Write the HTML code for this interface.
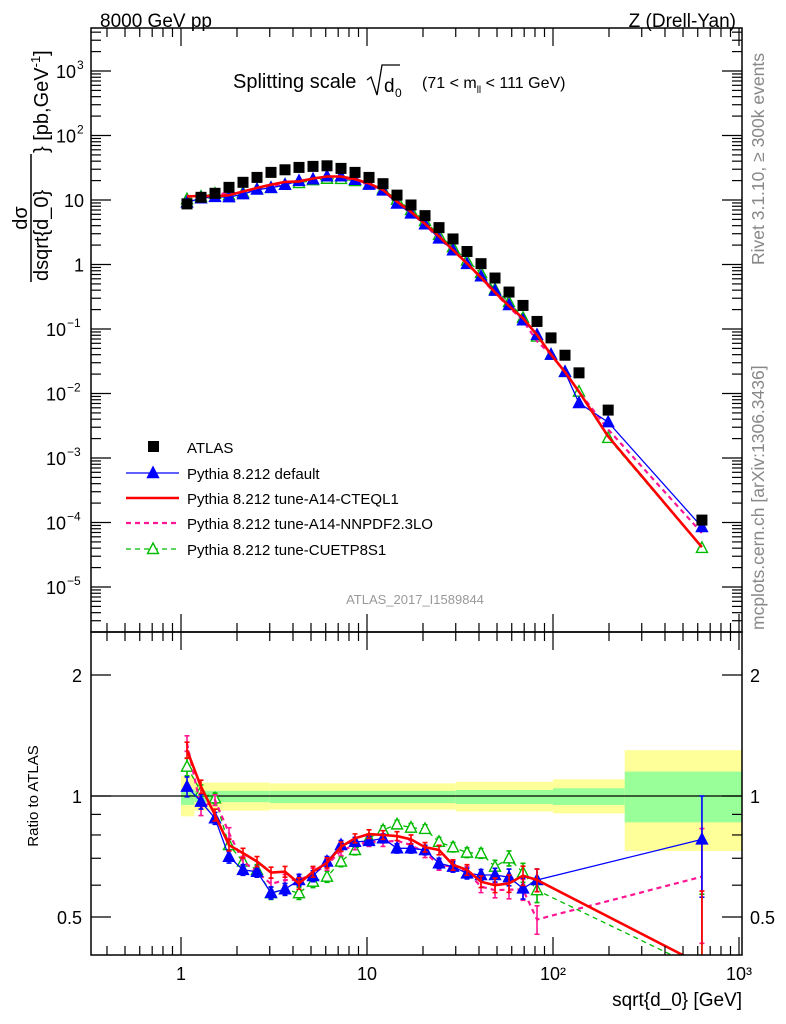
<!DOCTYPE html>
<html><head><meta charset="utf-8"><style>
html,body{margin:0;background:#fff;overflow:hidden;width:786px;height:1024px}
svg{display:block;font-family:"Liberation Sans",sans-serif}
</style></head><body>
<svg id="c" width="786" height="1024" viewBox="0 0 786 1024" xmlns="http://www.w3.org/2000/svg">
<defs>
<clipPath id="cm"><rect x="91" y="28" width="651" height="604"/></clipPath>
<clipPath id="cr"><rect x="91" y="632" width="651" height="323"/></clipPath>
</defs>
<g id="bands" clip-path="url(#cr)"></g>
<g id="main"></g>
<g id="ratio"></g>
<g id="axes"></g>
<text x="100" y="27" font-size="19">8000 GeV pp</text>
<text x="736" y="27" font-size="19" text-anchor="end">Z (Drell-Yan)</text>
<g>
<text x="233" y="88" font-size="20">Splitting scale</text>
<path d="M367,80 l4,-3 l6,18 l5,-30 h18" fill="none" stroke="#000" stroke-width="1.3"/>
<text x="384" y="92" font-size="19">d</text><text x="395" y="97" font-size="12">0</text>
<text x="422" y="88" font-size="16">(71 &lt; m<tspan font-size="10" dy="5">ll</tspan><tspan dy="-5"> &lt; 111 GeV)</tspan></text>
</g>
<text x="415" y="604" font-size="13" fill="#999" text-anchor="middle">ATLAS_2017_I1589844</text>
<text transform="translate(764,265) rotate(-90)" font-size="17.5" fill="#888">Rivet 3.1.10, ≥ 300k events</text>
<text transform="translate(764,630) rotate(-90)" font-size="17.5" fill="#888">mcplots.cern.ch [arXiv:1306.3436]</text>
<g>
<text transform="translate(27,218) rotate(-90)" font-size="20" text-anchor="middle">dσ</text>
<line x1="31" y1="282" x2="31" y2="154" stroke="#000" stroke-width="1.5"/>
<text transform="translate(48,281) rotate(-90)" font-size="20">dsqrt{d_0}</text>
<text transform="translate(48,153) rotate(-90)" font-size="20">} [pb,GeV<tspan font-size="13" dy="-8">-1</tspan><tspan dy="8">]</tspan></text>
</g>
<text transform="translate(38,796) rotate(-90)" font-size="15" text-anchor="middle">Ratio to ATLAS</text>
<text x="742" y="1006" font-size="19" text-anchor="end">sqrt{d_0} [GeV]</text>
<g id="legend"></g>
</svg>
<script>
const NS="http://www.w3.org/2000/svg";
// ---- data ----
const xBinLogStart=0.0323, xBinLogStep=0.07527; // bin index to log10(sqrt d0)
const xIndex=[0,1,2,3,4,5,6,7,8,9,10,11,12,13,14,15,16,17,18,19,20,21,22,23,24,25,26,27,28];
const xExtra=[198,632];
const atlas=[8.7,11.0,12.7,15.7,18.8,22.4,26.8,29.4,32.0,33.2,33.9,30.9,26.8,22.4,17.9,11.9,8.37,5.72,3.73,2.49,1.59,1.03,0.617,0.374,0.232,0.131,0.0728,0.0392,0.0209,0.00553,0.000109];
const rDefault=[1.055,0.968,0.880,0.706,0.655,0.648,0.574,0.586,0.618,0.632,0.687,0.755,0.769,0.773,0.785,0.741,0.741,0.734,0.680,0.667,0.642,0.636,0.636,0.628,0.589,0.618];
const rA14=[1.301,1.055,0.897,0.755,0.721,0.687,0.645,0.648,0.606,0.648,0.682,0.748,0.785,0.804,0.800,0.795,0.780,0.746,0.734,0.674,0.655,0.612,0.600,0.606,0.634,0.618];
const rNNPDF=[1.352,0.934,0.977,0.809,0.687,0.648,0.604,0.618,0.618,0.642,0.674,0.731,0.755,0.769,0.769,0.774,0.755,0.723,0.674,0.667,0.648,0.595,0.583,0.585,0.585,0.493];
const rCUETP=[1.183,1.025,0.987,0.755,0.687,0.655,0.573,0.586,0.573,0.612,0.630,0.687,0.734,0.785,0.823,0.850,0.834,0.828,0.769,0.746,0.723,0.720,0.667,0.700,0.645,0.583];
const tailDefault=[0.55,0.55,0.34,0.65,0.78];
const tailA14=[0.55,0.55,0.51,0.39,0.38];
const tailNNPDF=[0.55,0.55,0.51,0.50,0.63];
const tailCUETP=[0.55,0.55,0.51,0.37,0.37];
const errRel=[0.06,0.04,0.03,0.025,0.02,0.02,0.02,0.02,0.02,0.02,0.02,0.02,0.02,0.02,0.02,0.02,0.02,0.02,0.02,0.02,0.02,0.02,0.025,0.03,0.035,0.04];
const lastErr=[0.22,0.2,0.2,0.2];
const bandEdges=[1.0,1.18,3.0,10,30,100,243,1100];
const yellowHi=[1.12,1.08,1.075,1.075,1.085,1.10,1.30];
const yellowLo=[0.89,0.92,0.925,0.925,0.915,0.905,0.73];
const greenHi=[1.04,1.03,1.03,1.03,1.035,1.045,1.15];
const greenLo=[0.95,0.965,0.96,0.96,0.955,0.95,0.86];
const seriesNames=["Pythia 8.212 default","Pythia 8.212 tune-A14-CTEQL1","Pythia 8.212 tune-A14-NNPDF2.3LO","Pythia 8.212 tune-CUETP8S1"];
// ---- scales ----
const X=v=>181+186*Math.log10(v);
const Y=v=>264.5-64.5*Math.log10(v);
const R=r=>796-402*Math.log10(r);
const xs=xIndex.map(i=>Math.pow(10,xBinLogStart+xBinLogStep*i)).concat(xExtra);
function el(t,a,p){const e=document.createElementNS(NS,t);for(const k in a)e.setAttribute(k,a[k]);p.appendChild(e);return e;}
const gm=document.getElementById('main'),gr=document.getElementById('ratio'),gb=document.getElementById('bands'),ga=document.getElementById('axes');
for(let i=0;i<yellowHi.length;i++){
 const x1=X(bandEdges[i]),x2=X(bandEdges[i+1]);
 const y=el('rect',{x:x1,y:R(yellowHi[i]),width:x2-x1,height:R(yellowLo[i])-R(yellowHi[i]),fill:'#ffff99'},gb);
 
 
 const g=el('rect',{x:x1,y:R(greenHi[i]),width:x2-x1,height:R(greenLo[i])-R(greenHi[i]),fill:'#99ff99'},gb);
 
 
}
el('line',{x1:91,x2:742,y1:R(1),y2:R(1),stroke:'#000','stroke-width':1.2},gr);
const styles=[
 {c:'#0000ff',w:1.3,d:'',m:'tri',fill:true},
 {c:'#ff0000',w:2.6,d:'',m:'none'},
 {c:'#ff1493',w:2.2,d:'5,4',m:'none'},
 {c:'#00bb00',w:1.3,d:'5,4',m:'tri',fill:false}];
const ratios=[rDefault,rA14,rNNPDF,rCUETP];
const tails=[tailDefault,tailA14,tailNNPDF,tailCUETP];
const gmc=el('g',{'clip-path':'url(#cm)'},gm);
const grc=el('g',{'clip-path':'url(#cr)'},gr);
function tri(g,x,y,s,name){
 const t=el('path',{d:`M${x},${y-6}L${x+5.5},${y+4.5}L${x-5.5},${y+4.5}Z`,fill:s.fill?s.c:'#fff',stroke:s.c,'stroke-width':1.4},g);
 
 
}
[3,2,0,1].forEach(k=>{
 const s=styles[k];
 const full=ratios[k].concat(tails[k]);
 const mv=full.map((r,i)=>atlas[i]*r);
 const pm=mv.map((v,i)=>`${i?'L':'M'}${X(xs[i]).toFixed(1)},${Y(v).toFixed(1)}`).join('');
 const l=el('path',{d:pm,fill:'none',stroke:s.c,'stroke-width':s.w,'stroke-dasharray':s.d},gmc);
 
 
 const ri=ratios[k].map((r,i)=>[X(xs[i]),r,errRel[i]]);
 ri.push([X(xs[xs.length-1]),tails[k][tails[k].length-1],lastErr[k]]);
 const pr=ri.map((p,i)=>`${i?'L':'M'}${p[0].toFixed(1)},${R(p[1]).toFixed(1)}`).join('');
 const lr=el('path',{d:pr,fill:'none',stroke:s.c,'stroke-width':s.w,'stroke-dasharray':s.d},grc);
 
 
 ri.forEach(p=>{
  const eb=el('path',{d:`M${p[0]},${R(p[1]+p[2])}V${R(p[1]-p[2])}M${p[0]-2.5},${R(p[1]+p[2])}h5M${p[0]-2.5},${R(p[1]-p[2])}h5`,stroke:s.c,'stroke-width':1.6,fill:'none'},grc);
  
  
  if(s.m==='tri')tri(grc,p[0],R(p[1]),s,'ratio-point');
 });
 if(s.m==='tri')mv.forEach((v,i)=>tri(gmc,X(xs[i]),Y(v),s,'main-point'));
});
atlas.forEach((v,i)=>{
 const r=el('rect',{x:X(xs[i])-5.5,y:Y(v)-5.5,width:11,height:11,fill:'#000'},gm);
 
 
});
el('rect',{x:91,y:28,width:651,height:604,fill:'none',stroke:'#000','stroke-width':1.5},ga);
el('rect',{x:91,y:632,width:651,height:323,fill:'none',stroke:'#000','stroke-width':1.5},ga);
function tk(x1,y1,x2,y2){el('line',{x1,y1,x2,y2,stroke:'#000','stroke-width':1.2},ga);}
const xMin=Math.pow(10,(91-181)/186),xMax=Math.pow(10,(742-181)/186);
for(let d=-1;d<=3;d++)for(let m=1;m<10;m++){
 const v=m*Math.pow(10,d);if(v<xMin||v>xMax)continue;const x=X(v),L=m===1?18:9;
 tk(x,632,x,632-L);tk(x,28,x,28+L);tk(x,955,x,955-L);tk(x,632,x,632+L);
}
[[1,'1'],[10,'10'],[100,'10²'],[1000,'10³']].forEach(([v,t])=>{
 const e=el('text',{x:X(v),y:980,'font-size':18,'text-anchor':'middle'},ga);e.textContent=t;
 
 
});
for(let d=-6;d<=3;d++)for(let m=1;m<10;m++){
 const v=m*Math.pow(10,d),y=Y(v);if(y<28||y>632)continue;const L=m===1?20:10;
 tk(91,y,91+L,y);tk(742,y,742-L,y);
}
[[1000,'10','3'],[100,'10','2'],[10,'10',''],[1,'1',''],[0.1,'10','−1'],[0.01,'10','−2'],[0.001,'10','−3'],[1e-4,'10','−4'],[1e-5,'10','−5']].forEach(([v,b,e])=>{
 const t=el('text',{x:e?(e.length>1?66:76):84,y:Y(v)+7,'font-size':18,'text-anchor':'end'},ga);t.textContent=b;
 
 
 if(e){const s=el('text',{x:e.length>1?67:77,y:Y(v)-2,'font-size':12},ga);s.textContent=e;}
});
[0.5,0.6,0.7,0.8,0.9,1,2].forEach(v=>{const y=R(v);const L=(v===1||v===2||v===0.5)?20:10;tk(91,y,91+L,y);tk(742,y,742-L,y);});
[[2,'2'],[1,'1'],[0.5,'0.5']].forEach(([v,t])=>{
 const a=el('text',{x:82,y:R(v)+7,'font-size':18,'text-anchor':'end'},ga);a.textContent=t;
 
 
 const b=el('text',{x:750,y:R(v)+7,'font-size':18},ga);b.textContent=t;
 
 
});
const lg=document.getElementById('legend');
const ly=[447,473,498,523,549];
const a=el('rect',{x:148,y:ly[0]-6,width:11,height:11,fill:'#000'},lg);


const at=el('text',{x:187,y:ly[0]+6,'font-size':15},lg);at.textContent='ATLAS';
seriesNames.forEach((n,k)=>{
 const s=styles[k],y=ly[k+1];
 el('line',{x1:126,x2:179,y1:y,y2:y,stroke:s.c,'stroke-width':s.w,'stroke-dasharray':s.d},lg);
 if(s.m==='tri')tri(lg,153,y,s,'legend-marker');
 const t=el('text',{x:187,y:y+6,'font-size':15},lg);t.textContent=n;
 
 
});
</script>
</body></html>
